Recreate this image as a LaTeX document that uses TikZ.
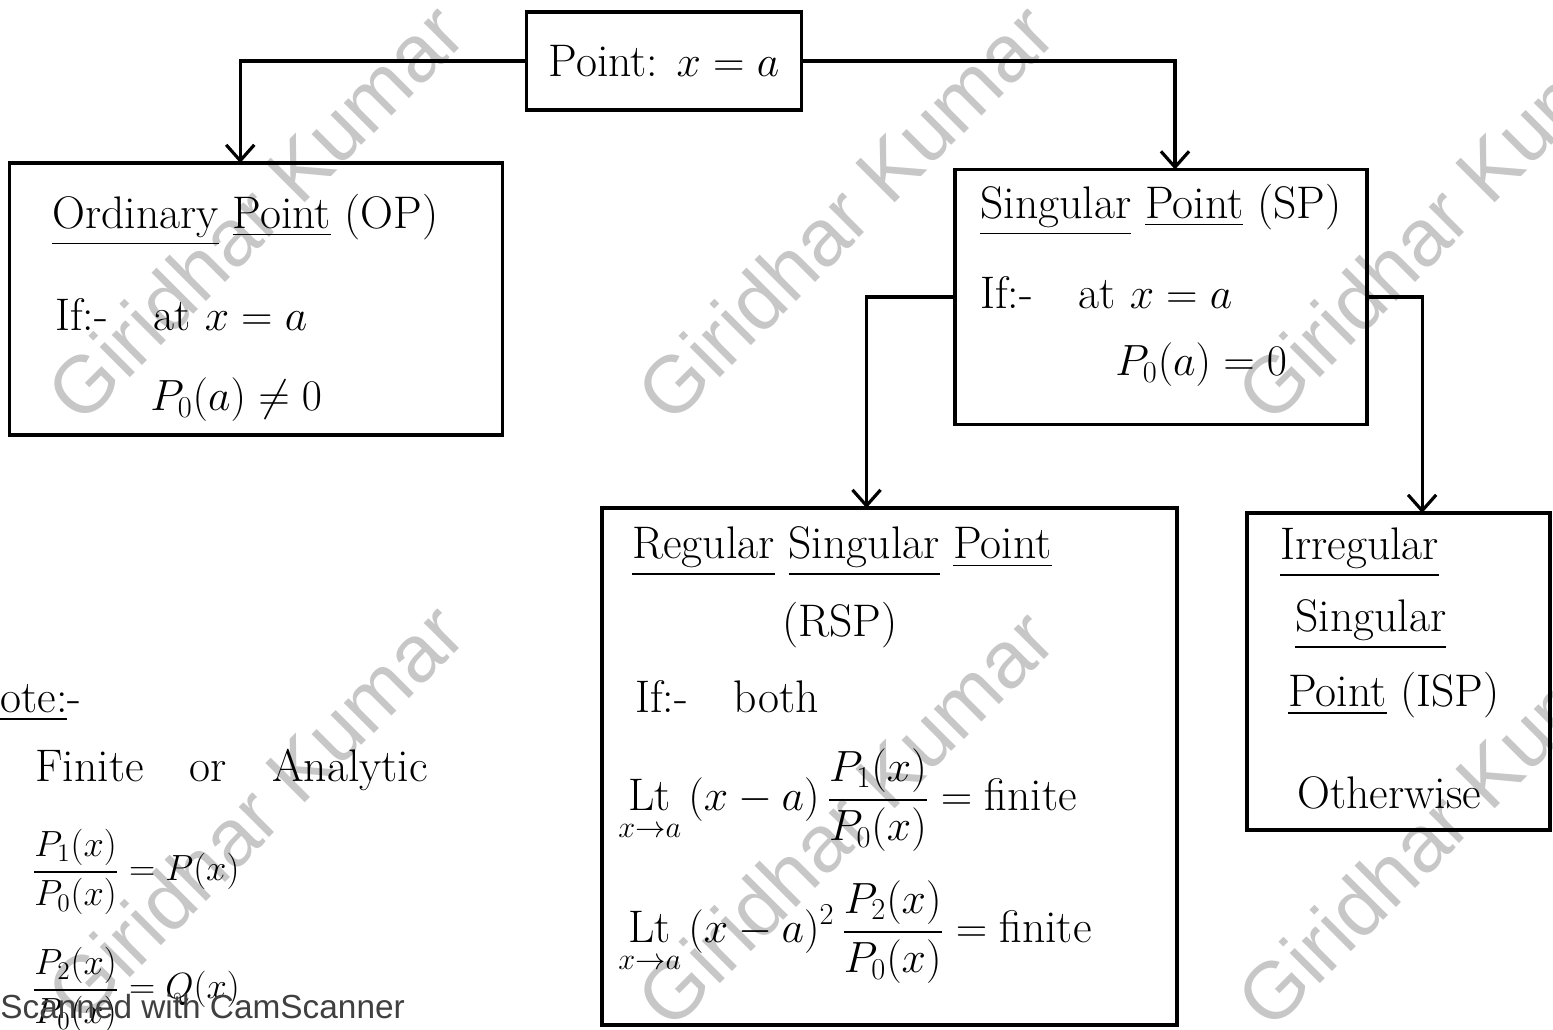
\documentclass[tikz,border=0pt]{standalone}
\usepackage{amsmath}
\usepackage{fontspec}
\newfontfamily\wmfont{Liberation Sans}
\usetikzlibrary{arrows.meta,calc}
\tikzset{
  x=0.02cm, y=-0.02cm,
  box/.style={draw, line width=1.8pt, rectangle, inner sep=0pt, outer sep=0pt},
  conn/.style={line width=1.8pt, -{Straight Barb[length=9pt,width=16pt,line width=1.8pt]}},
  txt/.style={anchor=west, inner sep=0pt, font=\fontsize{26}{30}\selectfont},
  ctxt/.style={anchor=center, inner sep=0pt, font=\fontsize{26}{30}\selectfont},
  ntxt/.style={anchor=west, inner sep=0pt, font=\fontsize{20}{24}\selectfont},
  wm/.style={text=black!22, rotate=45, font=\wmfont\fontsize{46}{50}\selectfont, inner sep=0pt}
}
\begin{document}
\begin{tikzpicture}
\useasboundingbox (0,0) rectangle (1553,1030);
\fill[white] (0,0) rectangle (1553,1030);
% watermarks
\begin{scope}
\clip (0,0) rectangle (1553,1030);
\node[wm] (w1) at (255,212) {Giridhar Kumar};
\node[wm] (w2) at (845,212) {Giridhar Kumar};
\node[wm] (w3) at (1445,212) {Giridhar Kumar};
\node[wm] (w4) at (255,812) {Giridhar Kumar};
\node[wm] (w5) at (845,818) {Giridhar Kumar};
\node[wm] (w6) at (1445,818) {Giridhar Kumar};
\end{scope}

% boxes
\node[box, minimum width=5.5cm, minimum height=1.96cm] (pt) at (664,61) {};
\node[box, minimum width=9.86cm, minimum height=5.44cm] (op) at (256,299) {};
\node[box, minimum width=8.24cm, minimum height=5.1cm] (sp) at (1161,297) {};
\node[box, minimum width=11.5cm, minimum height=10.34cm] (rsp) at (889.5,766.5) {};
\node[box, minimum width=6.06cm, minimum height=6.34cm] (isp) at (1398.5,671.5) {};

% connectors
\draw[conn] (pt.west) -| ($(op.north west)!0.468!(op.north east)$);
\draw[conn] (pt.east) -| ($(sp.north west)!0.534!(sp.north east)$);
\draw[conn] (sp.west) -| ($(rsp.north west)!0.46!(rsp.north east)$);
\draw[conn] (sp.east) -| ($(isp.north west)!0.578!(isp.north east)$);

% Point box text
\node[ctxt] (ptt) at (pt.center) {Point: $x=a$};

% OP text
\node[txt] (op1) at (52,220) {\underline{Ordinary} \underline{Point} (OP)};
\node[txt] (op2) at (55,315) {If:-\quad at $x=a$};
\node[txt] (op3) at (150,400) {$P_0(a)\neq 0$};

% SP text
\node[txt] (sp1) at (980,210) {\underline{Singular} \underline{Point} (SP)};
\node[txt] (sp2) at (980,293) {If:-\quad at $x=a$};
\node[txt] (sp3) at (1115,365) {$P_0(a)=0$};

% RSP text
\node[txt] (r1) at (632,552) {\underline{Regular} \underline{Singular} \underline{Point}};
\node[ctxt] (r2) at (840,625) {(RSP)};
\node[txt] (r3) at (635,697) {If:-\quad both};
\node[txt] (r4) at (618,800) {$\displaystyle \mathop{\mathrm{Lt}}\limits_{x\to a}\,(x-a)\,\frac{P_1(x)}{P_0(x)} = \text{finite}$};
\node[txt] (r5) at (618,932) {$\displaystyle \mathop{\mathrm{Lt}}\limits_{x\to a}\,(x-a)^2\,\frac{P_2(x)}{P_0(x)} = \text{finite}$};

% ISP text
\node[txt] (i1) at (1280,553) {\underline{Irregular}};
\node[txt] (i2) at (1295,625) {\underline{Singular}};
\node[txt] (i3) at (1288,695) {\underline{Point} (ISP)};
\node[txt] (i4) at (1297,793) {Otherwise};

% Note
\node[txt] (n1) at (0,703) {\underline{ote:}-};
\node[txt] (n2) at (35,770) {Finite\quad or\quad Analytic};
\node[ntxt] (n3) at (32,872) {$\displaystyle \frac{P_1(x)}{P_0(x)} = P(x)$};
\node[ntxt] (n4) at (32,990) {$\displaystyle \frac{P_2(x)}{P_0(x)} = Q(x)$};

% scanner label
\node[anchor=west, inner sep=0pt, text=black!75, font=\wmfont\fontsize{19}{22}\selectfont] (cs) at (0,1007) {Scanned with CamScanner};
\end{tikzpicture}
\end{document}
